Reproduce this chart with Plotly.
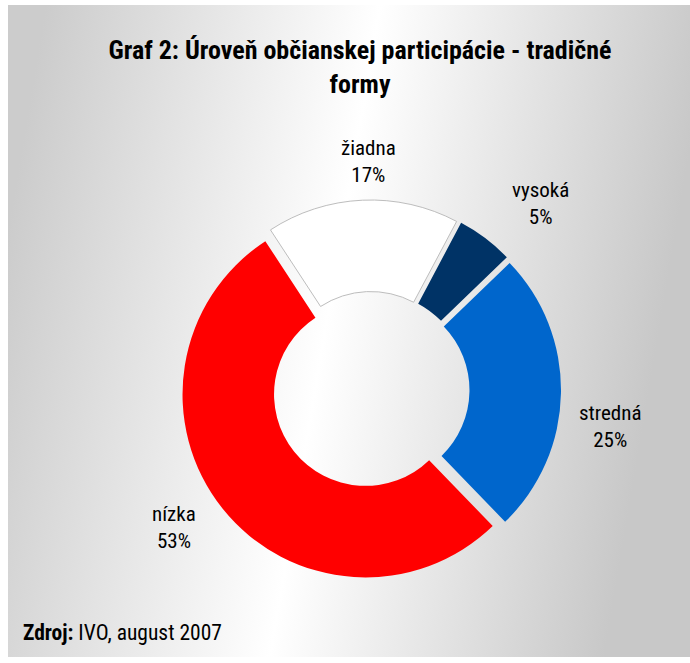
import base64
import plotly.graph_objects as go

# ---- data ----
categories = ["vysoká", "stredná", "nízka", "žiadna"]
values = [5, 25, 53, 17]
slice_colors = ["#003366", "#0066CC", "#FF0000", "#FFFFFF"]

title_text = "<b>Graf 2: Úroveň občianskej participácie - tradičné<br>formy</b>"
source_bold = "Zdroj:"
source_rest = " IVO, august 2007"

W, H = 690, 663
FONT = "Roboto Condensed, Liberation Sans Narrow, Arial Narrow, sans-serif"

# background: framed diagonal gray-white-gray gradient
svg = f'''<svg xmlns="http://www.w3.org/2000/svg" width="{W}" height="{H}" viewBox="0 0 {W} {H}">
<defs><linearGradient id="g" gradientUnits="userSpaceOnUse" x1="0" y1="276" x2="650" y2="386">
<stop offset="0" stop-color="#cccccc"/><stop offset="0.5" stop-color="#ffffff"/><stop offset="1" stop-color="#c8c8c8"/>
</linearGradient></defs>
<rect x="0" y="0" width="{W}" height="{H}" fill="#ffffff"/>
<rect x="8" y="5" width="{W-8}" height="652" fill="url(#g)"/>
</svg>'''
src = "data:image/svg+xml;base64," + base64.b64encode(svg.encode()).decode()

fig = go.Figure()
fig.add_trace(go.Pie(
    labels=categories,
    values=values,
    sort=False,
    direction="clockwise",
    rotation=28,
    hole=0.5,
    pull=[0.038] * len(values),
    marker=dict(colors=slice_colors,
                line=dict(color=["rgba(0,0,0,0)"] * 3 + ["#bdbdbd"], width=[0, 0, 0, 1])),
    textinfo="none",
    hoverinfo="label+percent",
    showlegend=False,
    domain=dict(x=[181 / W, 561 / W], y=[83 / H, 463 / H]),
))

# slice labels
label_pos = {"žiadna": (368, 161), "vysoká": (540, 203), "stredná": (610, 426), "nízka": (174, 527)}
total = sum(values)
for cat, v in zip(categories, values):
    px, py = label_pos[cat]
    fig.add_annotation(
        x=px / W, y=1 - py / H, xref="paper", yref="paper",
        text=f"{cat}<br>{round(100 * v / total)}%",
        showarrow=False, xanchor="center", yanchor="middle",
        font=dict(family=FONT, size=21, color="#000000"),
    )

fig.add_annotation(
    x=21 / W, y=1 - 632 / H, xref="paper", yref="paper",
    text=f"<b>{source_bold}</b>{source_rest}",
    showarrow=False, xanchor="left", yanchor="middle",
    font=dict(family=FONT, size=21.5, color="#000000"),
)

fig.update_layout(
    width=W, height=H,
    margin=dict(l=0, r=0, t=0, b=0),
    paper_bgcolor="#ffffff",
    plot_bgcolor="rgba(0,0,0,0)",
    title=dict(text=title_text, x=360 / W, xanchor="center", y=1 - 59 / H, yanchor="middle",
               font=dict(family=FONT, size=26, color="#000000")),
    images=[dict(source=src, xref="paper", yref="paper", x=0, y=1, sizex=1, sizey=1,
                 xanchor="left", yanchor="top", sizing="stretch", layer="below")],
)

fig.write_html("out.html", config={"displayModeBar": False},
               post_script="document.body.style.margin='0';")
